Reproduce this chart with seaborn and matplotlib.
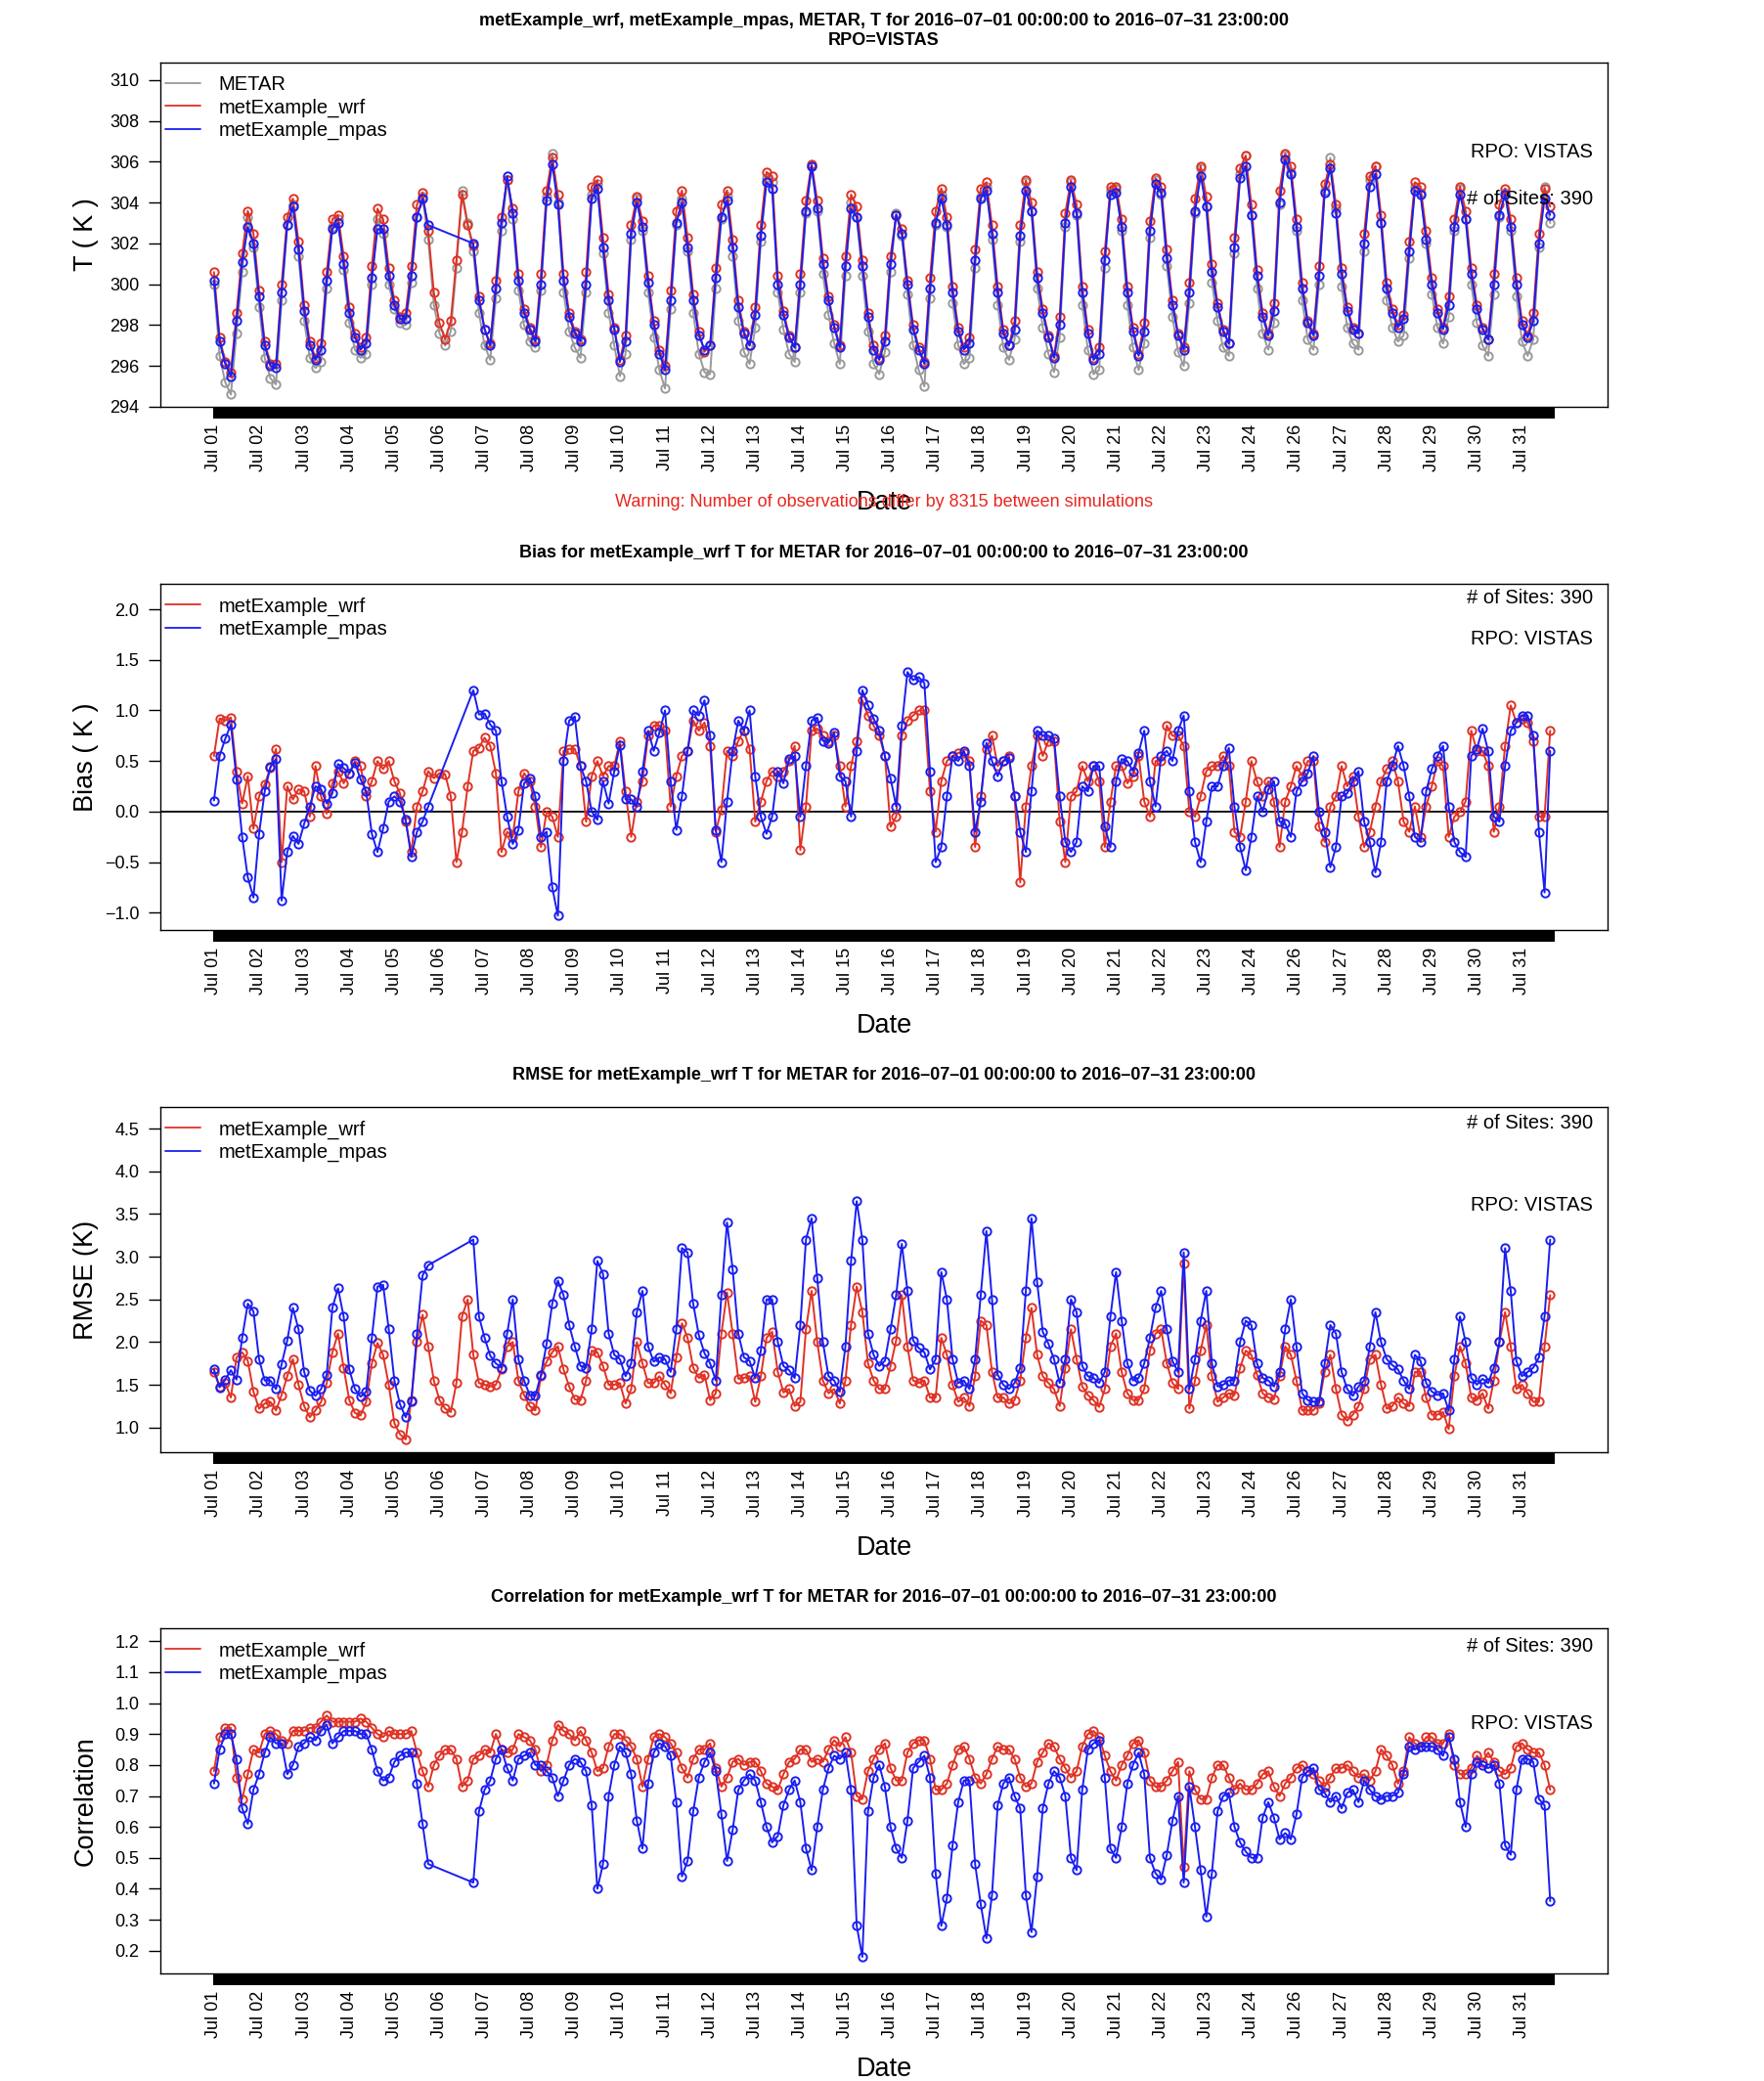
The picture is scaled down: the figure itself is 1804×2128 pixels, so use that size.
import numpy as np
import pandas as pd
import matplotlib
matplotlib.use("Agg")
import matplotlib.pyplot as plt
from matplotlib.lines import Line2D
import seaborn as sns

nan = np.nan

# hourly records are plotted by record number (714 records); values read every 3rd record
n_rec = 714
step = 3

date_labels = ["Jul 01", "Jul 02", "Jul 03", "Jul 04", "Jul 05", "Jul 06", "Jul 07", "Jul 08",
               "Jul 09", "Jul 10", "Jul 11", "Jul 12", "Jul 13", "Jul 14", "Jul 15", "Jul 16",
               "Jul 17", "Jul 18", "Jul 19", "Jul 20", "Jul 21", "Jul 22", "Jul 23", "Jul 24",
               "Jul 26", "Jul 27", "Jul 28", "Jul 29", "Jul 30", "Jul 31"]

# ---- T (K) ----
t_metar = [
    300.0, 296.5, 295.2, 294.6, 297.6, 300.6, 303.3, 301.8,
    298.9, 296.4, 295.4, 295.1, 299.2, 302.9, 303.9, 301.4,
    298.2, 296.4, 295.9, 296.2, 299.8, 302.8, 303.2, 300.7,
    298.1, 296.8, 296.4, 296.6, 300.0, 303.2, 302.5, 300.0,
    298.8, 298.1, 298.0, 300.1, 303.3, 304.3, 302.2, 299.0,
    297.6, 297.0, 297.7, 300.8, 304.6, 303.0, 301.6, 298.6,
    297.0, 296.3, 299.3, 302.6, 305.1, 303.2, 299.7, 298.0,
    297.2, 296.9, 299.7, 304.3, 306.4, 304.0, 299.6, 297.7,
    296.9, 296.4, 299.6, 304.4, 304.9, 301.5, 298.6, 297.0,
    295.5, 296.6, 302.2, 304.2, 302.6, 299.6, 297.4, 295.8,
    294.9, 298.8, 302.9, 304.2, 301.6, 298.6, 296.6, 295.7,
    295.6, 299.8, 303.2, 304.3, 301.4, 298.2, 296.7, 296.1,
    297.9, 302.1, 305.2, 305.0, 299.6, 297.8, 296.6, 296.2,
    299.6, 303.5, 305.8, 303.6, 300.5, 298.5, 297.1, 296.1,
    300.4, 304.0, 303.3, 300.4, 297.7, 296.1, 295.6, 296.7,
    300.6, 303.5, 302.4, 299.5, 297.0, 295.8, 295.0, 299.3,
    302.9, 304.4, 302.8, 299.1, 297.0, 296.1, 296.4, 300.8,
    304.3, 304.8, 302.2, 299.0, 296.9, 296.3, 297.3, 302.1,
    305.0, 303.6, 299.8, 297.9, 296.6, 295.7, 297.4, 302.8,
    305.0, 303.4, 299.0, 296.8, 295.6, 295.8, 300.8, 304.6,
    304.7, 302.6, 299.0, 296.9, 295.8, 297.1, 302.3, 305.1,
    304.4, 300.9, 298.4, 296.7, 296.0, 299.1, 303.5, 305.7,
    303.8, 300.1, 298.2, 296.9, 296.5, 301.5, 305.4, 306.3,
    303.4, 299.8, 297.6, 296.8, 298.1, 303.9, 306.3, 305.5,
    302.6, 299.2, 297.3, 296.8, 300.0, 304.6, 306.2, 303.7,
    299.9, 297.9, 297.1, 296.8, 301.6, 305.1, 305.8, 303.0,
    299.2, 297.9, 297.2, 297.5, 301.3, 304.8, 304.5, 302.0,
    299.5, 297.9, 297.1, 298.4, 302.6, 304.7, 303.2, 300.0,
    298.1, 297.0, 296.5, 299.5, 303.3, 304.5, 302.6, 299.4,
    297.2, 296.5, 297.3, 301.8, 304.8, 303.0]
t_wrf = [
    300.6, 297.4, 296.2, 295.7, 298.6, 301.5, 303.6, 302.5,
    299.7, 297.2, 296.1, 296.1, 300.0, 303.3, 304.2, 302.1,
    299.0, 297.2, 296.4, 297.1, 300.6, 303.2, 303.4, 301.4,
    298.9, 297.6, 296.9, 297.4, 300.9, 303.7, 303.2, 300.8,
    299.2, 298.4, 298.6, 300.9, 303.9, 304.5, 302.6, 299.6,
    298.1, 297.3, 298.2, 301.2, 304.4, 302.9, 301.9, 299.4,
    297.8, 297.1, 300.2, 303.3, 305.1, 303.7, 300.5, 298.8,
    297.9, 297.3, 300.5, 304.6, 306.2, 304.4, 300.5, 298.6,
    297.7, 297.3, 300.6, 304.8, 305.1, 302.3, 299.5, 297.9,
    296.3, 297.5, 302.9, 304.3, 303.1, 300.4, 298.2, 296.8,
    296.0, 299.7, 303.6, 304.6, 302.3, 299.5, 297.7, 296.7,
    297.0, 300.8, 303.9, 304.6, 302.2, 299.2, 297.7, 297.0,
    298.9, 302.9, 305.5, 305.3, 300.4, 298.7, 297.5, 296.9,
    300.5, 304.1, 305.9, 304.1, 301.3, 299.4, 298.0, 297.0,
    301.4, 304.4, 303.8, 301.2, 298.6, 297.0, 296.4, 297.5,
    301.4, 303.4, 302.7, 300.2, 298.0, 296.9, 296.2, 300.3,
    303.6, 304.7, 303.3, 299.9, 297.9, 296.9, 297.4, 301.7,
    304.7, 305.0, 302.9, 299.9, 297.8, 297.0, 298.2, 302.9,
    305.1, 304.0, 300.6, 298.8, 297.5, 296.5, 298.4, 303.5,
    305.1, 303.9, 299.9, 297.8, 296.4, 296.9, 301.6, 304.8,
    304.8, 303.2, 299.9, 297.9, 296.6, 298.1, 303.1, 305.2,
    304.8, 301.7, 299.2, 297.6, 296.9, 300.1, 304.2, 305.8,
    304.3, 301.0, 299.1, 297.8, 297.1, 302.3, 305.7, 306.3,
    303.9, 300.7, 298.6, 297.6, 299.1, 304.6, 306.4, 305.8,
    303.2, 300.1, 298.2, 297.6, 300.9, 304.9, 305.9, 303.9,
    300.8, 298.9, 297.9, 297.6, 302.5, 305.3, 305.8, 303.4,
    300.1, 298.8, 298.0, 298.5, 302.1, 305.0, 304.8, 302.6,
    300.3, 298.8, 297.9, 299.4, 303.2, 304.8, 303.6, 300.8,
    299.0, 297.9, 297.3, 300.5, 303.9, 304.7, 303.2, 300.3,
    298.2, 297.5, 298.6, 302.5, 304.7, 303.8]
t_mpas = [
    300.2, 297.2, 296.1, 295.5, 298.2, 301.1, 302.8, 302.0,
    299.4, 297.0, 296.0, 295.9, 299.6, 302.9, 303.8, 301.7,
    298.7, 297.0, 296.3, 296.8, 300.2, 302.7, 303.0, 301.0,
    298.6, 297.4, 296.8, 297.1, 300.3, 302.7, 302.7, 300.4,
    299.0, 298.3, 298.3, 300.4, 303.3, 304.2, 302.9, nan,
    nan, nan, nan, nan, nan, nan, 302.0, 299.2,
    297.8, 297.0, 299.8, 303.0, 305.3, 303.5, 300.2, 298.6,
    297.8, 297.2, 300.0, 304.1, 305.9, 303.9, 300.2, 298.4,
    297.6, 297.2, 300.0, 304.2, 304.7, 301.8, 299.2, 297.8,
    296.2, 297.2, 302.5, 304.0, 302.8, 300.1, 298.0, 296.6,
    295.8, 299.2, 303.0, 304.0, 301.8, 299.2, 297.5, 296.8,
    297.0, 300.3, 303.3, 304.1, 301.8, 298.9, 297.6, 297.0,
    298.5, 302.4, 305.0, 304.7, 300.0, 298.5, 297.4, 296.9,
    300.0, 303.6, 305.8, 303.7, 301.0, 299.2, 297.9, 296.9,
    300.9, 303.7, 303.3, 300.9, 298.4, 296.8, 296.3, 297.2,
    301.0, 303.4, 302.5, 300.0, 297.8, 296.8, 296.1, 299.8,
    303.0, 304.2, 302.9, 299.6, 297.7, 296.8, 297.1, 301.2,
    304.2, 304.6, 302.5, 299.6, 297.6, 297.0, 297.8, 302.4,
    304.6, 303.6, 300.3, 298.6, 297.4, 296.4, 298.0, 303.0,
    304.8, 303.5, 299.6, 297.6, 296.3, 296.6, 301.2, 304.4,
    304.5, 302.8, 299.6, 297.7, 296.5, 297.7, 302.6, 304.9,
    304.5, 301.3, 299.0, 297.5, 296.8, 299.6, 303.6, 305.3,
    303.8, 300.6, 298.9, 297.7, 297.1, 301.8, 305.2, 305.8,
    303.4, 300.4, 298.4, 297.5, 298.7, 304.0, 306.1, 305.4,
    302.8, 299.8, 298.1, 297.5, 300.4, 304.5, 305.7, 303.5,
    300.5, 298.7, 297.8, 297.6, 302.0, 304.8, 305.4, 303.0,
    299.8, 298.6, 297.9, 298.3, 301.6, 304.6, 304.4, 302.2,
    300.0, 298.6, 297.8, 299.0, 302.8, 304.4, 303.2, 300.5,
    298.8, 297.8, 297.3, 300.0, 303.4, 304.4, 302.8, 300.0,
    298.0, 297.4, 298.2, 302.0, 304.2, 303.4]

# ---- Bias (K) ----
bias_wrf = [
    0.55, 0.92, 0.90, 0.93, 0.40, 0.08, 0.35, -0.17,
    0.15, 0.27, 0.43, 0.62, -0.50, 0.25, 0.12, 0.22,
    0.20, -0.05, 0.45, 0.15, -0.02, 0.28, 0.40, 0.28,
    0.38, 0.50, 0.45, 0.15, 0.30, 0.50, 0.42, 0.50,
    0.30, 0.18, -0.10, -0.40, 0.05, 0.20, 0.40, 0.33,
    0.38, 0.37, 0.15, -0.50, -0.20, 0.25, 0.60, 0.63,
    0.73, 0.65, 0.38, -0.40, -0.20, -0.25, 0.20, 0.38,
    0.30, 0.05, -0.35, 0.00, -0.05, -0.25, 0.60, 0.62,
    0.62, 0.45, -0.10, 0.35, 0.50, 0.35, 0.45, 0.45,
    0.70, 0.20, -0.25, 0.10, 0.30, 0.75, 0.85, 0.85,
    0.80, 0.05, 0.35, 0.55, 0.60, 0.90, 0.80, 0.88,
    0.65, -0.20, 0.02, 0.60, 0.55, 0.70, 0.80, 0.62,
    -0.10, 0.10, 0.30, 0.40, 0.35, 0.40, 0.50, 0.65,
    -0.38, 0.05, 0.80, 0.82, 0.75, 0.70, 0.75, 0.45,
    0.05, 0.45, 0.70, 1.10, 0.95, 0.85, 0.75, 0.55,
    -0.15, -0.05, 0.75, 0.90, 0.95, 1.00, 1.00, 0.20,
    -0.20, 0.30, 0.50, 0.55, 0.58, 0.58, 0.50, -0.35,
    0.15, 0.62, 0.75, 0.45, 0.50, 0.55, 0.15, -0.70,
    0.05, 0.45, 0.75, 0.55, 0.70, 0.70, -0.10, -0.50,
    0.15, 0.20, 0.45, 0.30, 0.45, 0.30, -0.35, 0.10,
    0.45, 0.45, 0.28, 0.35, 0.55, 0.10, -0.05, 0.50,
    0.50, 0.85, 0.75, 0.75, 0.65, 0.00, -0.05, 0.15,
    0.40, 0.45, 0.45, 0.55, 0.45, -0.20, -0.25, 0.10,
    0.50, 0.30, 0.15, 0.30, 0.10, -0.35, 0.10, 0.25,
    0.45, 0.35, 0.50, 0.50, -0.15, -0.30, 0.05, 0.15,
    0.45, 0.25, 0.35, -0.05, -0.35, -0.20, 0.05, 0.30,
    0.42, 0.50, 0.30, -0.10, -0.20, 0.05, -0.25, 0.05,
    0.25, 0.50, 0.45, -0.25, -0.05, 0.00, 0.10, 0.80,
    0.60, 0.60, 0.45, -0.20, 0.05, 0.65, 1.05, 0.88,
    0.92, 0.88, 0.70, -0.05, -0.05, 0.80]
bias_mpas = [
    0.11, 0.55, 0.72, 0.86, 0.32, -0.25, -0.65, -0.85,
    -0.22, 0.20, 0.44, 0.52, -0.88, -0.40, -0.24, -0.32,
    -0.12, 0.05, 0.25, 0.22, 0.08, 0.18, 0.47, 0.43,
    0.38, 0.48, 0.32, 0.20, -0.22, -0.40, -0.17, 0.10,
    0.15, 0.10, -0.08, -0.45, -0.20, -0.10, 0.05, nan,
    nan, nan, nan, nan, nan, nan, 1.20, 0.96,
    0.97, 0.86, 0.80, 0.30, -0.05, -0.32, -0.18, 0.28,
    0.33, 0.15, -0.25, -0.20, -0.75, -1.03, 0.50, 0.90,
    0.94, 0.45, 0.30, 0.00, -0.08, 0.30, 0.08, 0.40,
    0.66, 0.12, 0.12, 0.05, 0.40, 0.80, 0.60, 0.78,
    1.00, 0.30, -0.18, 0.15, 0.60, 1.00, 0.95, 1.10,
    0.75, -0.18, -0.50, 0.10, 0.60, 0.90, 0.80, 1.00,
    0.35, -0.05, -0.22, -0.05, 0.40, 0.28, 0.52, 0.55,
    -0.05, 0.45, 0.90, 0.93, 0.70, 0.68, 0.78, 0.35,
    0.30, -0.05, 0.60, 1.20, 1.05, 0.92, 0.80, 0.55,
    0.33, 0.05, 0.85, 1.38, 1.30, 1.33, 1.27, 0.40,
    -0.50, -0.35, 0.15, 0.55, 0.50, 0.60, 0.45, -0.20,
    0.10, 0.68, 0.50, 0.35, 0.50, 0.53, 0.15, -0.20,
    -0.40, 0.20, 0.80, 0.75, 0.75, 0.72, 0.15, -0.30,
    -0.40, -0.30, 0.25, 0.20, 0.45, 0.45, -0.15, -0.35,
    0.30, 0.52, 0.50, 0.40, 0.58, 0.80, 0.30, 0.05,
    0.55, 0.60, 0.50, 0.80, 0.95, 0.20, -0.30, -0.50,
    -0.10, 0.25, 0.25, 0.45, 0.63, 0.05, -0.35, -0.58,
    -0.25, 0.15, 0.00, 0.22, 0.30, -0.10, -0.12, -0.25,
    0.20, 0.30, 0.38, 0.55, 0.00, -0.20, -0.55, -0.35,
    0.15, 0.18, 0.30, 0.40, -0.10, -0.30, -0.60, -0.30,
    0.30, 0.45, 0.65, 0.45, 0.15, -0.25, -0.30, 0.20,
    0.42, 0.55, 0.65, 0.05, -0.30, -0.40, -0.45, 0.55,
    0.62, 0.82, 0.60, -0.05, -0.10, 0.45, 0.80, 0.88,
    0.95, 0.95, 0.75, -0.20, -0.80, 0.60]

# ---- RMSE (K) ----
rmse_wrf = [
    1.65, 1.48, 1.52, 1.35, 1.82, 1.88, 1.78, 1.42,
    1.22, 1.28, 1.30, 1.20, 1.38, 1.60, 1.80, 1.50,
    1.25, 1.12, 1.20, 1.30, 1.52, 1.88, 2.10, 1.70,
    1.32, 1.17, 1.14, 1.30, 1.75, 1.99, 1.85, 1.50,
    1.05, 0.92, 0.86, 1.32, 2.00, 2.32, 1.95, 1.55,
    1.32, 1.22, 1.18, 1.52, 2.30, 2.50, 1.85, 1.52,
    1.50, 1.48, 1.50, 1.68, 1.95, 2.00, 1.55, 1.38,
    1.25, 1.20, 1.60, 1.77, 1.88, 1.95, 1.68, 1.48,
    1.33, 1.32, 1.55, 1.90, 1.88, 1.72, 1.50, 1.50,
    1.52, 1.28, 1.45, 2.00, 1.75, 1.52, 1.52, 1.60,
    1.50, 1.40, 1.82, 2.22, 2.05, 1.70, 1.58, 1.62,
    1.32, 1.40, 2.10, 2.58, 2.10, 1.57, 1.58, 1.60,
    1.30, 1.60, 2.05, 2.12, 1.65, 1.41, 1.45, 1.25,
    1.30, 2.15, 2.60, 2.00, 1.55, 1.40, 1.45, 1.28,
    1.55, 2.20, 2.65, 2.35, 1.75, 1.55, 1.45, 1.45,
    1.72, 2.02, 2.55, 1.95, 1.55, 1.52, 1.55, 1.35,
    1.35, 2.05, 1.85, 1.50, 1.30, 1.35, 1.25, 1.60,
    2.25, 2.20, 1.65, 1.35, 1.35, 1.28, 1.32, 1.55,
    2.05, 2.40, 1.85, 1.60, 1.52, 1.45, 1.25, 1.70,
    2.15, 1.80, 1.48, 1.38, 1.32, 1.24, 1.45, 1.95,
    2.10, 1.65, 1.40, 1.32, 1.32, 1.45, 1.90, 2.10,
    2.15, 1.75, 1.52, 1.45, 2.92, 1.22, 1.55, 1.90,
    2.20, 1.60, 1.30, 1.35, 1.40, 1.38, 1.70, 1.90,
    1.85, 1.62, 1.40, 1.35, 1.33, 1.60, 1.95, 1.85,
    1.55, 1.20, 1.20, 1.20, 1.28, 1.65, 1.85, 1.45,
    1.15, 1.08, 1.15, 1.25, 1.45, 1.80, 1.85, 1.50,
    1.22, 1.25, 1.35, 1.28, 1.25, 1.65, 1.65, 1.35,
    1.15, 1.15, 1.18, 0.98, 1.60, 1.95, 1.75, 1.35,
    1.32, 1.40, 1.22, 1.55, 2.00, 2.35, 1.95, 1.45,
    1.50, 1.40, 1.30, 1.30, 1.95, 2.55]
rmse_mpas = [
    1.68, 1.47, 1.56, 1.67, 1.56, 2.05, 2.45, 2.36,
    1.80, 1.55, 1.55, 1.45, 1.74, 2.02, 2.40, 2.15,
    1.65, 1.43, 1.37, 1.45, 1.62, 2.40, 2.63, 2.30,
    1.68, 1.45, 1.36, 1.42, 2.05, 2.65, 2.67, 2.15,
    1.55, 1.27, 1.12, 1.30, 2.10, 2.78, 2.90, nan,
    nan, nan, nan, nan, nan, nan, 3.20, 2.30,
    2.05, 1.84, 1.75, 1.70, 2.10, 2.50, 1.80, 1.55,
    1.38, 1.37, 1.62, 1.98, 2.45, 2.72, 2.55, 2.20,
    1.95, 1.72, 1.70, 2.15, 2.95, 2.80, 2.10, 1.85,
    1.80, 1.60, 1.75, 2.35, 2.60, 1.95, 1.77, 1.82,
    1.80, 1.65, 2.15, 3.10, 3.05, 2.45, 2.08, 1.87,
    1.75, 1.55, 2.55, 3.40, 2.85, 2.10, 1.82, 1.78,
    1.58, 1.90, 2.50, 2.50, 2.00, 1.72, 1.67, 1.58,
    2.20, 3.20, 3.45, 2.75, 2.00, 1.60, 1.55, 1.42,
    1.95, 2.95, 3.65, 3.20, 2.10, 1.85, 1.72, 1.78,
    2.15, 2.55, 3.15, 2.60, 2.02, 1.93, 1.88, 1.68,
    1.80, 2.82, 2.50, 1.80, 1.52, 1.55, 1.45, 1.80,
    2.55, 3.30, 2.50, 1.62, 1.50, 1.45, 1.52, 1.70,
    2.60, 3.45, 2.70, 2.12, 1.98, 1.80, 1.52, 1.80,
    2.50, 2.35, 1.72, 1.60, 1.58, 1.52, 1.65, 2.30,
    2.82, 2.25, 1.75, 1.55, 1.58, 1.75, 2.05, 2.40,
    2.60, 2.15, 1.78, 1.65, 3.05, 1.45, 1.80, 2.25,
    2.60, 1.75, 1.48, 1.50, 1.55, 1.55, 2.00, 2.25,
    2.20, 1.75, 1.58, 1.55, 1.48, 1.65, 2.15, 2.50,
    1.95, 1.40, 1.32, 1.30, 1.30, 1.75, 2.20, 2.10,
    1.65, 1.45, 1.37, 1.48, 1.55, 1.95, 2.35, 2.00,
    1.80, 1.73, 1.68, 1.55, 1.45, 1.85, 1.78, 1.52,
    1.42, 1.38, 1.40, 1.20, 1.80, 2.30, 2.00, 1.58,
    1.50, 1.57, 1.52, 1.70, 2.00, 3.10, 2.60, 1.78,
    1.60, 1.65, 1.70, 1.82, 2.30, 3.20]

# ---- Correlation ----
corr_wrf = [
    0.78, 0.89, 0.92, 0.92, 0.76, 0.69, 0.77, 0.85,
    0.84, 0.90, 0.91, 0.90, 0.88, 0.87, 0.91, 0.91,
    0.91, 0.92, 0.92, 0.94, 0.96, 0.94, 0.94, 0.94,
    0.94, 0.94, 0.95, 0.94, 0.92, 0.90, 0.89, 0.91,
    0.90, 0.90, 0.90, 0.91, 0.84, 0.78, 0.73, 0.80,
    0.83, 0.85, 0.85, 0.82, 0.73, 0.75, 0.82, 0.83,
    0.85, 0.84, 0.90, 0.85, 0.84, 0.85, 0.90, 0.89,
    0.88, 0.85, 0.78, 0.80, 0.88, 0.93, 0.91, 0.90,
    0.88, 0.91, 0.88, 0.84, 0.78, 0.79, 0.86, 0.90,
    0.90, 0.88, 0.86, 0.82, 0.73, 0.82, 0.89, 0.90,
    0.89, 0.87, 0.84, 0.79, 0.76, 0.82, 0.85, 0.85,
    0.87, 0.79, 0.73, 0.76, 0.81, 0.82, 0.80, 0.81,
    0.81, 0.78, 0.74, 0.73, 0.72, 0.77, 0.81, 0.82,
    0.85, 0.85, 0.81, 0.82, 0.81, 0.85, 0.88, 0.86,
    0.89, 0.84, 0.70, 0.69, 0.78, 0.82, 0.85, 0.87,
    0.79, 0.75, 0.75, 0.84, 0.87, 0.88, 0.88, 0.82,
    0.72, 0.72, 0.74, 0.80, 0.85, 0.86, 0.82, 0.76,
    0.74, 0.77, 0.82, 0.86, 0.85, 0.85, 0.82, 0.76,
    0.73, 0.74, 0.81, 0.84, 0.87, 0.86, 0.82, 0.79,
    0.76, 0.78, 0.86, 0.90, 0.91, 0.89, 0.83, 0.78,
    0.75, 0.80, 0.83, 0.87, 0.88, 0.84, 0.75, 0.73,
    0.73, 0.75, 0.78, 0.81, 0.47, 0.78, 0.72, 0.69,
    0.69, 0.76, 0.80, 0.80, 0.76, 0.72, 0.74, 0.72,
    0.72, 0.74, 0.77, 0.78, 0.73, 0.70, 0.74, 0.76,
    0.79, 0.80, 0.78, 0.77, 0.75, 0.73, 0.76, 0.79,
    0.79, 0.80, 0.78, 0.76, 0.77, 0.75, 0.78, 0.85,
    0.83, 0.80, 0.74, 0.78, 0.89, 0.87, 0.86, 0.89,
    0.89, 0.87, 0.87, 0.90, 0.80, 0.77, 0.77, 0.79,
    0.83, 0.81, 0.84, 0.81, 0.78, 0.77, 0.79, 0.86,
    0.87, 0.85, 0.84, 0.84, 0.80, 0.72]
corr_mpas = [
    0.74, 0.85, 0.90, 0.90, 0.82, 0.66, 0.61, 0.72,
    0.77, 0.84, 0.89, 0.87, 0.87, 0.77, 0.80, 0.86,
    0.87, 0.89, 0.88, 0.91, 0.93, 0.87, 0.89, 0.91,
    0.91, 0.91, 0.90, 0.90, 0.85, 0.78, 0.75, 0.76,
    0.81, 0.83, 0.84, 0.84, 0.74, 0.61, 0.48, nan,
    nan, nan, nan, nan, nan, nan, 0.42, 0.65,
    0.72, 0.75, 0.82, 0.85, 0.79, 0.75, 0.82, 0.83,
    0.84, 0.80, 0.80, 0.78, 0.76, 0.70, 0.75, 0.80,
    0.82, 0.81, 0.78, 0.67, 0.40, 0.48, 0.70, 0.80,
    0.86, 0.84, 0.77, 0.62, 0.53, 0.74, 0.84, 0.87,
    0.86, 0.83, 0.68, 0.44, 0.49, 0.65, 0.76, 0.81,
    0.84, 0.78, 0.64, 0.49, 0.59, 0.72, 0.75, 0.77,
    0.75, 0.68, 0.60, 0.55, 0.57, 0.67, 0.72, 0.75,
    0.68, 0.53, 0.46, 0.60, 0.72, 0.79, 0.83, 0.82,
    0.84, 0.72, 0.28, 0.18, 0.65, 0.76, 0.80, 0.73,
    0.60, 0.53, 0.50, 0.62, 0.79, 0.81, 0.83, 0.76,
    0.45, 0.28, 0.37, 0.54, 0.68, 0.75, 0.75, 0.48,
    0.35, 0.24, 0.38, 0.67, 0.74, 0.76, 0.70, 0.66,
    0.38, 0.26, 0.44, 0.66, 0.74, 0.78, 0.76, 0.70,
    0.50, 0.46, 0.72, 0.85, 0.87, 0.88, 0.76, 0.53,
    0.50, 0.60, 0.74, 0.80, 0.84, 0.77, 0.50, 0.45,
    0.43, 0.51, 0.62, 0.70, 0.42, 0.73, 0.60, 0.46,
    0.31, 0.45, 0.65, 0.70, 0.71, 0.60, 0.55, 0.52,
    0.50, 0.50, 0.63, 0.68, 0.63, 0.56, 0.58, 0.56,
    0.64, 0.76, 0.78, 0.79, 0.72, 0.71, 0.68, 0.70,
    0.66, 0.71, 0.72, 0.68, 0.75, 0.72, 0.70, 0.69,
    0.70, 0.70, 0.71, 0.77, 0.86, 0.85, 0.86, 0.86,
    0.86, 0.85, 0.83, 0.89, 0.82, 0.68, 0.60, 0.77,
    0.81, 0.80, 0.79, 0.80, 0.74, 0.54, 0.51, 0.72,
    0.82, 0.82, 0.81, 0.69, 0.67, 0.36]

# ---- style ----
sns.set_theme(style="ticks", rc={
    "axes.edgecolor": "black", "axes.labelcolor": "black", "text.color": "black",
    "xtick.color": "black", "ytick.color": "black", "axes.linewidth": 1.0,
})
plt.rcParams["font.family"] = ["Liberation Sans", "DejaVu Sans"]

c_obs = "#999999"
c_wrf = "#df3225"
c_mpas = "#1a1ef0"

W, H = 1804, 2128
fig = plt.figure(figsize=(W / 100, H / 100), dpi=100)


def add_panel(top, bottom):
    return fig.add_axes([164 / W, 1 - bottom / H, 1480 / W, (bottom - top) / H])


def draw(ax, values, color):
    df = pd.DataFrame({"rec": np.arange(len(values)) * step, "val": values}).dropna()
    sns.lineplot(data=df, x="rec", y="val", ax=ax, color=color, linewidth=1.4,
                 marker="o", markersize=6, markerfacecolor="none",
                 markeredgecolor=color, markeredgewidth=1.4,
                 estimator=None, sort=False, legend=False)


def dress(ax, yticks, ylim, fmt, ylabel, names, colors, sites_y, rpo_y):
    pad = 0.04 * (n_rec - 1)
    ax.set_xlim(-pad, n_rec - 1 + pad)
    ax.set_ylim(*ylim)
    ax.set_xticks(np.arange(len(date_labels)) * 24)
    ax.set_xticklabels(date_labels, rotation=90)
    ax.set_xticks(np.arange(n_rec), minor=True)
    ax.tick_params(axis="x", which="both", direction="out", length=8.5, width=1.5,
                   pad=4.5, labelsize=13)
    ax.set_yticks(yticks)
    ax.set_yticklabels([fmt.format(v).replace("-", "\u2212") for v in yticks])
    ax.tick_params(axis="y", direction="out", length=8.5, width=1.0, pad=7, labelsize=13)
    for s in ax.spines.values():
        s.set_visible(True)
        s.set_color("black")
        s.set_linewidth(1.0)
    ax.set_xlabel("Date", fontsize=19.5)
    ax.xaxis.set_label_coords(0.5, -0.241)
    ax.set_ylabel(ylabel, fontsize=19.5)
    ax.yaxis.set_label_coords(-0.0426, 0.5)
    handles = [Line2D([0], [0], color=c, lw=1.3) for c in colors]
    ax.legend(handles, names, loc="upper left", bbox_to_anchor=(0.0034, 0.962),
              frameon=False, fontsize=14.5, handlelength=1.8, handletextpad=0.9,
              borderaxespad=0, borderpad=0, labelspacing=0.2)
    ax.text(0.99, sites_y, "# of Sites: 390", transform=ax.transAxes,
            ha="right", va="center", fontsize=14.5)
    ax.text(0.99, rpo_y, "RPO: VISTAS", transform=ax.transAxes,
            ha="right", va="center", fontsize=14.5)


# panel 1: T
ax1 = add_panel(64, 416)
draw(ax1, t_metar, c_obs)
draw(ax1, t_wrf, c_wrf)
draw(ax1, t_mpas, c_mpas)
dress(ax1, np.arange(294, 311, 2), (294, 310.86), "{:.0f}", "T ( K )",
      ["METAR", "metExample_wrf", "metExample_mpas"], [c_obs, c_wrf, c_mpas], 0.605, 0.739)

# panel 2: bias
ax2 = add_panel(597, 951)
ax2.axhline(0, color="black", lw=1.3, zorder=1)
draw(ax2, bias_wrf, c_wrf)
draw(ax2, bias_mpas, c_mpas)
dress(ax2, np.arange(-1.0, 2.01, 0.5), (-1.171, 2.252), "{:.1f}", "Bias ( K )",
      ["metExample_wrf", "metExample_mpas"], [c_wrf, c_mpas], 0.959, 0.840)

# panel 3: RMSE
ax3 = add_panel(1132, 1485)
draw(ax3, rmse_wrf, c_wrf)
draw(ax3, rmse_mpas, c_mpas)
dress(ax3, np.arange(1.0, 4.51, 0.5), (0.71, 4.753), "{:.1f}", "RMSE (K)",
      ["metExample_wrf", "metExample_mpas"], [c_wrf, c_mpas], 0.952, 0.714)

# panel 4: correlation
ax4 = add_panel(1665, 2018)
draw(ax4, corr_wrf, c_wrf)
draw(ax4, corr_mpas, c_mpas)
dress(ax4, np.round(np.arange(0.2, 1.21, 0.1), 1), (0.1264, 1.242), "{:.1f}", "Correlation",
      ["metExample_wrf", "metExample_mpas"], [c_wrf, c_mpas], 0.949, 0.725)

# titles and notes
cx = 904 / W
period = "for 2016\u201307\u201301 00:00:00 to 2016\u201307\u201331 23:00:00"
fig.text(cx, 1 - 31.4 / H, "metExample_wrf, metExample_mpas, METAR, T " + period + "\nRPO=VISTAS",
         ha="center", va="center", fontsize=13, fontweight="bold", linespacing=1.2)
fig.text(cx, 1 - 565.5 / H, "Bias for metExample_wrf T for METAR " + period,
         ha="center", va="center", fontsize=13, fontweight="bold")
fig.text(cx, 1 - 1099.5 / H, "RMSE for metExample_wrf T for METAR " + period,
         ha="center", va="center", fontsize=13, fontweight="bold")
fig.text(cx, 1 - 1634 / H, "Correlation for metExample_wrf T for METAR " + period,
         ha="center", va="center", fontsize=13, fontweight="bold")
fig.text(cx, 1 - 514 / H, "Warning: Number of observations differ by 8315 between simulations",
         ha="center", va="center", fontsize=13, color="#e8261e")

fig.savefig("out.png", dpi=100)
